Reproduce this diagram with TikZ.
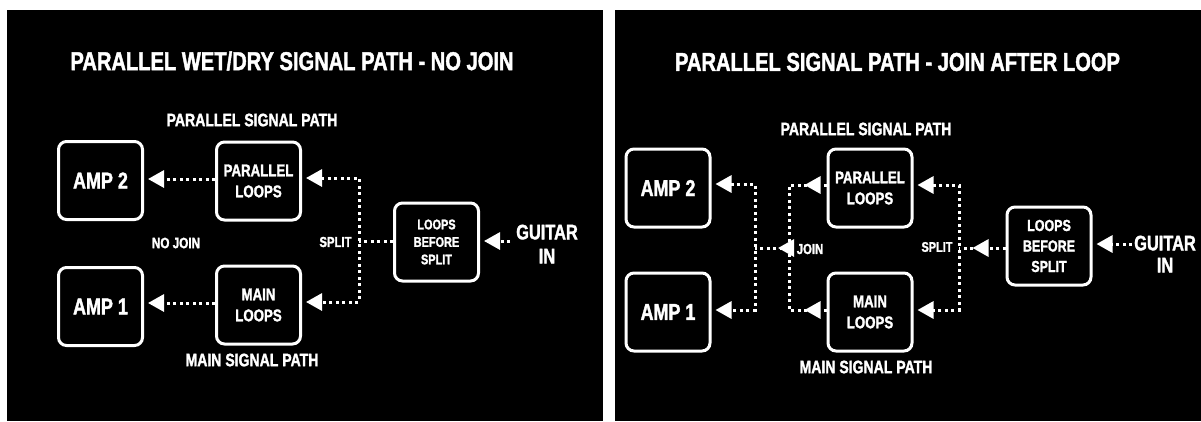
\documentclass[tikz,border=0pt]{standalone}
\usepackage{fontspec}
\setmainfont{Liberation Sans}[FakeStretch=0.78, BoldFeatures={FakeBold=1.6}]
\usetikzlibrary{arrows.meta,decorations.markings}
\tikzset{
  box/.style={draw=white, fill=black, line width=3pt, rounded corners=8pt,
    minimum width=84pt, minimum height=78pt, inner sep=0pt, text=white, align=center},
  lbl/.style={text=white, inner sep=0pt, align=center},
  fsz/.style={font=\bfseries\fontsize{#1}{#1}\selectfont},
  dotline/.style={draw=white, line width=3pt, dash pattern=on 3pt off 3.5pt},
  tri/.tip={Triangle[length=16pt,width=17pt]},
  arr/.style={dotline, -tri, shorten >=4pt},
  arrboth/.style={dotline, tri-tri, shorten >=4pt, shorten <=4pt},
  midarr/.style={dotline, postaction={decorate},
    decoration={markings, mark=at position #1 with {\arrow{tri}}}},
}
\begin{document}
\begin{tikzpicture}[x=1pt,y=-1pt]
\useasboundingbox (0,0) rectangle (1201,421);
\fill[white] (0,0) rectangle (1201,421);
\fill[black] (7,10) rectangle (603,421);
\fill[black] (615,10) rectangle (1201,421);

% ---------------- left panel ----------------
\node[lbl, fsz=25.8] (titleL) at (292,61) {PARALLEL WET/DRY SIGNAL PATH - NO JOIN};
\node[lbl, fsz=18] (psL) at (252,120) {PARALLEL SIGNAL PATH};
\node[lbl, fsz=18] (msL) at (252,360) {MAIN SIGNAL PATH};

\node[box, fsz=23] (amp2L) at (100.5,180.5) {AMP 2};
\node[box, fsz=23] (amp1L) at (100.5,306.5) {AMP 1};
\node[box, font=\bfseries\fontsize{17}{21}\selectfont] (plL) at (258.5,181) {PARALLEL\\LOOPS};
\node[box, font=\bfseries\fontsize{17}{21}\selectfont] (mlL) at (258.5,305) {MAIN\\LOOPS};
\node[box, font=\bfseries\fontsize{14}{17.5}\selectfont] (lbsL) at (436.5,242) {LOOPS\\BEFORE\\SPLIT};
\node[lbl, font=\bfseries\fontsize{21}{24}\selectfont] (gL) at (547,244) {GUITAR\\IN};
\node[lbl, fsz=15] (njL) at (176,243) {NO JOIN};
\node[lbl, fsz=14.5] (spL) at (335.5,242) {SPLIT};

\coordinate (sL) at (359,241);

\draw[arr] ([yshift=2pt]plL.west) -- ([yshift=2pt]plL.west -| amp2L.east);
\draw[arr] ([yshift=2pt]mlL.west) -- ([yshift=2pt]mlL.west -| amp1L.east);
\draw[arrboth] ([yshift=3pt]plL.east) -- ([yshift=3pt]plL.east -| sL)
   -- ([yshift=3pt]mlL.east -| sL) -- ([yshift=3pt]mlL.east);
\draw[dotline] ([yshift=1pt]lbsL.west) -- (sL);
\draw[arr, shorten <=6pt] ([yshift=1pt]lbsL.east -| gL.west) -- ([yshift=1pt]lbsL.east);

% ---------------- right panel ----------------
\node[lbl, fsz=25.8] (titleR) at (897.5,62) {PARALLEL SIGNAL PATH - JOIN AFTER LOOP};
\node[lbl, fsz=18] (psR) at (866,129) {PARALLEL SIGNAL PATH};
\node[lbl, fsz=18] (msR) at (866,367) {MAIN SIGNAL PATH};

\node[box, fsz=23] (amp2R) at (668,188) {AMP 2};
\node[box, fsz=23] (amp1R) at (668,312) {AMP 1};
\node[box, font=\bfseries\fontsize{17}{21}\selectfont] (plR) at (870,188) {PARALLEL\\LOOPS};
\node[box, font=\bfseries\fontsize{17}{21}\selectfont] (mlR) at (870,312) {MAIN\\LOOPS};
\node[box, font=\bfseries\fontsize{16}{20.5}\selectfont] (lbsR) at (1049,246) {LOOPS\\BEFORE\\SPLIT};
\node[lbl, font=\bfseries\fontsize{21}{22}\selectfont] (gR) at (1165,254) {GUITAR\\IN};
\node[lbl, fsz=14.5] (jlab) at (810,249) {JOIN};
\node[lbl, fsz=14] (spR) at (937,247) {SPLIT};

\coordinate (sR) at (959,248);
\coordinate (jR) at (789,248);
\coordinate (aR) at (755,248);

\draw[arr, shorten <=2pt] ([yshift=2pt]lbsR.east -| gR.west) -- ([yshift=2pt]lbsR.east);
\draw[midarr=33pt] ([yshift=-2pt]lbsR.west) -- (sR);
\draw[arrboth] ([yshift=3pt]plR.east) -- ([yshift=3pt]plR.east -| sR)
   -- ([yshift=2pt]mlR.east -| sR) -- ([yshift=2pt]mlR.east);
\draw[midarr=22pt] ([yshift=3pt]plR.west) -- ([yshift=3pt]plR.west -| jR) -- (jR);
\draw[midarr=22pt] ([yshift=2pt]mlR.west) -- ([yshift=2pt]mlR.west -| jR) -- (jR);
\draw[midarr=11pt] (jR) -- (aR);
\draw[arrboth] ([yshift=4pt]amp2R.east) -- ([yshift=4pt]amp2R.east -| aR)
   -- ([yshift=2pt]amp1R.east -| aR) -- ([yshift=2pt]amp1R.east);
\end{tikzpicture}
\end{document}
